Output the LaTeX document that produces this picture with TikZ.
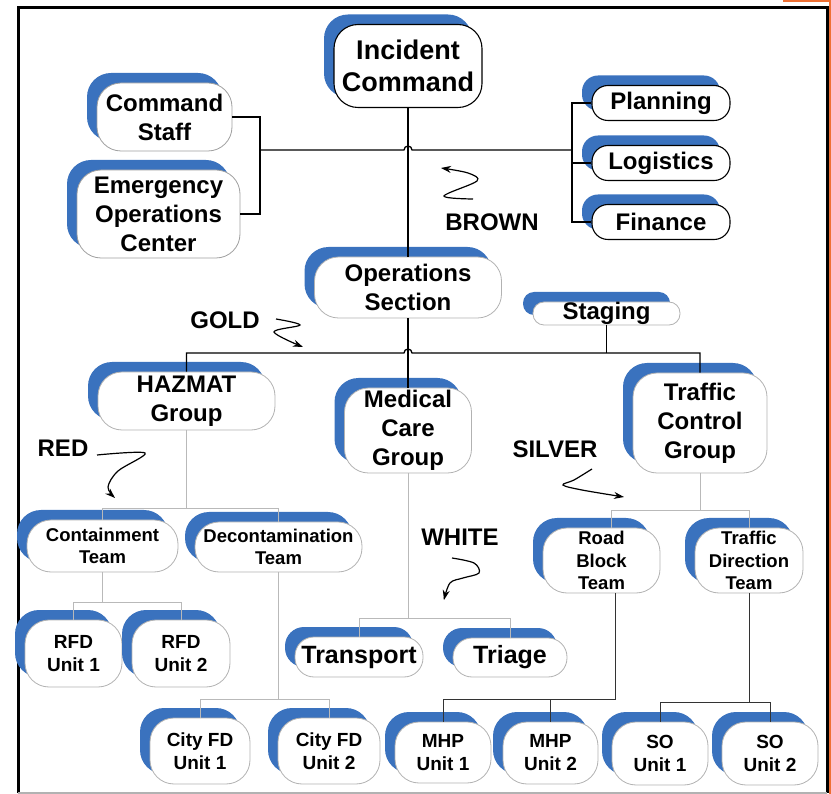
\documentclass[tikz,border=0pt]{standalone}
\usepackage{fontspec}
\setmainfont{Liberation Sans}
\usepackage{xcolor}
\usepackage{tikz}
\usetikzlibrary{arrows.meta, shadows}

\definecolor{icsblue}{RGB}{58,114,190}
\definecolor{frameorange}{RGB}{238,112,52}

\begin{document}
\begin{tikzpicture}[
  x=1pt, y=-1pt,
  every node/.style = {font=\bfseries, align=center, inner sep=0pt},
  box/.style        = {draw=gray!60, line width=0.8pt, fill=white, rounded corners=24pt,
                       general shadow={fill=icsblue, draw=none, shadow xshift=-10pt, shadow yshift=10pt}},
  topbox/.style     = {box, draw=black, line width=1.1pt},
  f27/.style        = {font=\fontsize{27}{32}\selectfont\bfseries},
  f24/.style        = {font=\fontsize{24}{29}\selectfont\bfseries},
  f19/.style        = {font=\fontsize{19}{23}\selectfont\bfseries},
  mainln/.style     = {draw=black, line width=1.3pt},
  subln/.style      = {draw=gray!55, line width=1pt},
  darkln/.style     = {draw=black!80, line width=1pt},
  squig/.style      = {-{Stealth[length=10pt, width=7pt]}, line width=1.2pt},
]

\def\hop{4pt}   % radius of the line jumps

\useasboundingbox (0,0) rectangle (831,794);

%% ── Frame ────────────────────────────────────────────────────────────────
\fill[frameorange] (829,0) rectangle (831,794);
\fill[frameorange] (783,0) rectangle (831,2.5);
\draw[line width=3pt] (18,793) -- (18,8) -- (827,8) -- (827,793);
\draw[gray!60, line width=1.5pt] (18,793) -- (827,793);

%% ── Command level ────────────────────────────────────────────────────────
\node[topbox, f27, minimum width=148pt, minimum height=83pt] (ic) at (408,66) {Incident\\Command};
\node[box, draw=gray!75, f24, minimum width=135pt, minimum height=68pt] (cstaff) at (164.5,117) {Command\\Staff};
\node[box, draw=gray!75, f24, minimum width=163pt, minimum height=88pt] (eoc) at (158.5,214) {Emergency\\Operations\\Center};

\node[topbox, f24, minimum width=138pt, minimum height=35pt, rounded corners=16pt] (plan) at (661,103) {Planning};
\node[topbox, f24, minimum width=138pt, minimum height=35pt, rounded corners=16pt] (logi) at (661,163) {Logistics};
\node[topbox, f24, minimum width=138pt, minimum height=35pt, rounded corners=16pt] (fin)  at (661,222) {Finance};

%% ── Sections and groups ──────────────────────────────────────────────────
\node[box, f24, minimum width=187pt, minimum height=61pt] (ops)  at (408,287.5) {Operations\\Section};
\node[box, f24, minimum width=147pt, minimum height=23pt, rounded corners=11pt] (stag) at (606.5,313.5) {Staging};

\node[box, f24, minimum width=177pt, minimum height=58pt]  (haz) at (186.5,401) {HAZMAT\\Group};
\node[box, f24, minimum width=127pt, minimum height=85pt]  (med) at (408,430.5) {Medical\\Care\\Group};
\node[box, f24, minimum width=134pt, minimum height=100pt] (tcg) at (700,423) {Traffic\\Control\\Group};

%% ── Teams ────────────────────────────────────────────────────────────────
\node[box, font=\fontsize{18.5}{22}\selectfont\bfseries, minimum width=151pt, minimum height=52pt] (cont)  at (102.5,546) {Containment\\Team};
\node[box, font=\fontsize{18.5}{22}\selectfont\bfseries, minimum width=167pt, minimum height=50pt] (decon) at (278.5,547) {Decontamination\\Team};
\node[box, font=\fontsize{18.5}{22.5}\selectfont\bfseries, minimum width=117pt, minimum height=65pt] (rblock) at (601.5,560.5) {Road\\Block\\Team};
\node[box, font=\fontsize{18.5}{22.5}\selectfont\bfseries, minimum width=108pt, minimum height=65pt] (tdir)   at (749,560.5) {Traffic\\Direction\\Team};

\node[box, font=\fontsize{25}{29}\selectfont\bfseries, minimum width=128pt, minimum height=40pt, rounded corners=19pt] (trans)  at (359,657)   {Transport};
\node[box, font=\fontsize{25}{29}\selectfont\bfseries, minimum width=114pt, minimum height=39pt, rounded corners=19pt] (triage) at (510,657.5) {Triage};

%% ── Units ────────────────────────────────────────────────────────────────
\node[box, f19, minimum width=97pt,  minimum height=67pt] (rfdA) at (73.5,653.5) {RFD\\Unit 1};
\node[box, f19, minimum width=98pt,  minimum height=67pt] (rfdB) at (181,653.5)  {RFD\\Unit 2};
\node[box, f19, minimum width=100pt, minimum height=66pt] (cfdA) at (200,751)    {City FD\\Unit 1};
\node[box, f19, minimum width=102pt, minimum height=66pt] (cfdB) at (329,751)    {City FD\\Unit 2};
\node[box, f19, minimum width=96pt,  minimum height=61pt] (mhpA) at (443,752.5)  {MHP\\Unit 1};
\node[box, f19, minimum width=95pt,  minimum height=62pt] (mhpB) at (550.5,753)  {MHP\\Unit 2};
\node[box, f19, minimum width=96pt,  minimum height=63pt] (soA)  at (660,753.5)  {SO\\Unit 1};
\node[box, f19, minimum width=96pt,  minimum height=63pt] (soB)  at (770,753.5)  {SO\\Unit 2};

%% ── Connectors: command level ────────────────────────────────────────────
\coordinate (j1) at (260,150);
\coordinate (j2) at (572,150);
\draw[mainln] (cstaff.east) -| (j1) |- (eoc.east);
\draw[mainln] (j1) -- (404,150) arc[start angle=180, end angle=0, radius=\hop] -- (j2);
\draw[mainln] (plan.west) -| (j2) |- (fin.west);
\draw[mainln] (logi.west) -- (logi.west -| j2);
\draw[mainln] (ic.south) -- (ops.north);

%% ── Connectors: groups ───────────────────────────────────────────────────
\coordinate (j3) at (606.5,353);
\draw[mainln] (haz.north) |- (404,353) arc[start angle=180, end angle=0, radius=\hop] -| (tcg.north);
\draw[mainln] (ops.south) -- (med.north);
\draw[mainln] (stag.south) -- (j3);

%% ── Connectors: teams and units ──────────────────────────────────────────
\draw[subln] (haz.south) -- ++(0,78) coordinate (hb);
\draw[subln] (cont.north) |- (hb) -| (decon.north);
\draw[subln] (cont.south) -- ++(0,30) coordinate (cb);
\draw[subln] (rfdA.north) |- (cb) -| (rfdB.north);
\draw[subln] (decon.south) -- ++(0,127) coordinate (db);
\draw[subln] (cfdA.north) |- (db) -| (cfdB.north);
\draw[subln] (med.south) -- ++(0,145) coordinate (mb);
\draw[subln] (trans.north) |- (mb) -| (triage.north);
\draw[subln] (tcg.south) -- ++(0,37) coordinate (tb);
\draw[subln] ([xshift=10pt]rblock.north) |- (tb) -| (tdir.north);
\draw[darkln] ([xshift=14pt]rblock.south) -- ++(0,106) coordinate (rb);
\draw[darkln] (mhpA.north) |- (rb);
\draw[darkln] (mhpB.north) -- (mhpB.north |- rb);
\draw[darkln] (tdir.south) -- ++(0,109) coordinate (sb);
\draw[darkln] (soA.north) |- (sb) -| (soB.north);

%% ── Colour labels and their arrows ───────────────────────────────────────
\node[f24] (lbrown)  at (492,222) {BROWN};
\node[f24] (lgold)   at (225,320) {GOLD};
\node[f24] (lred)    at (63,448)  {RED};
\node[f24] (lsilver) at (555,449) {SILVER};
\node[f24] (lwhite)  at (460,537) {WHITE};

\draw[squig] plot[smooth, tension=0.55] coordinates {(473,199) (444,196) (477,181) (468,173) (441,168)};
\draw[squig] plot[smooth, tension=0.55] coordinates {(276,319) (300,325) (274,332) (303,347)};
\draw[squig] plot[smooth, tension=0.55] coordinates {(97,455) (145,453) (118,471) (108,487) (115,498)};
\draw[squig] plot[smooth, tension=0.55] coordinates {(592,469) (574,480) (563,485) (582,490) (624,497)};
\draw[squig] plot[smooth, tension=0.55] coordinates {(452,558) (474,563) (479,573) (463,578) (450,583) (444,600)};

\end{tikzpicture}
\end{document}
